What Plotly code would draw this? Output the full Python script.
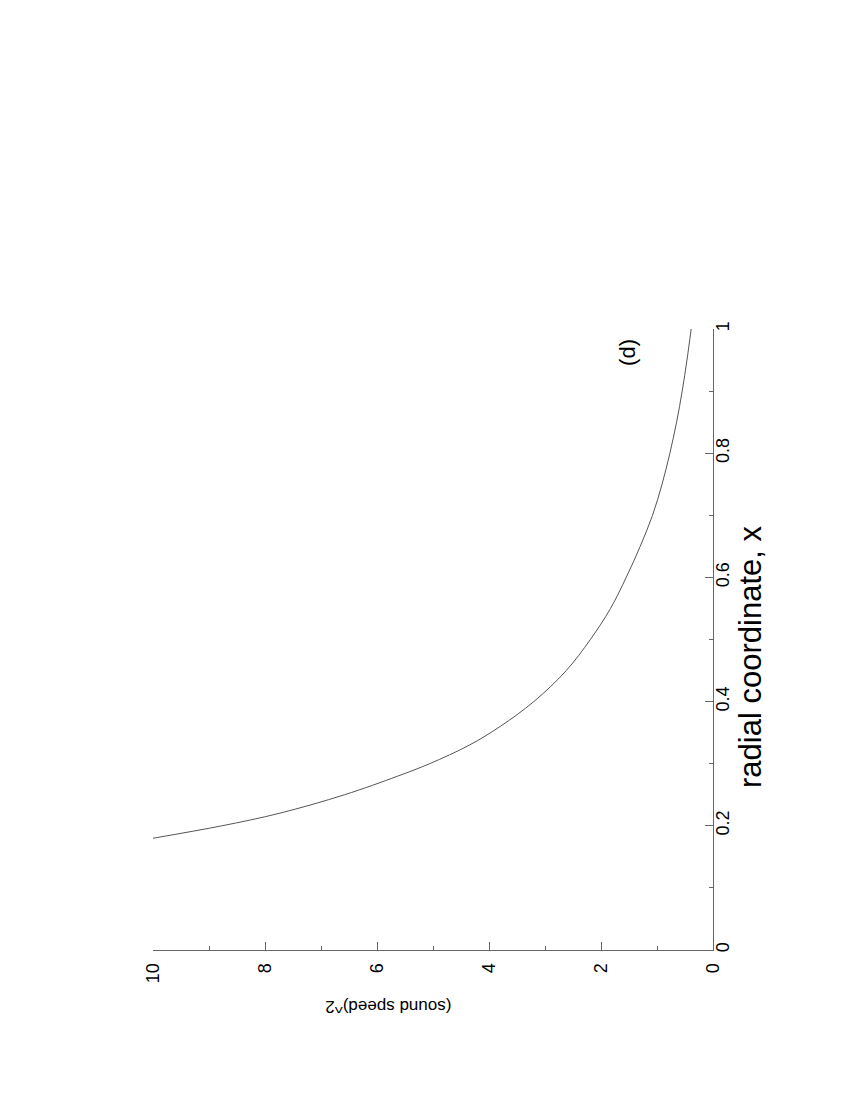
import plotly.graph_objects as go

# values (radial coordinate x -> (sound speed)^2)
radial_x = [0.18, 0.20, 0.22, 0.25, 0.28, 0.30, 0.33, 0.36, 0.40, 0.45, 0.50,
            0.55, 0.60, 0.65, 0.70, 0.75, 0.80, 0.85, 0.90, 0.95, 1.00]
sound_speed_sq = [10.0, 8.77, 7.75, 6.58, 5.63, 5.06, 4.35, 3.80, 3.20, 2.62, 2.19,
                  1.83, 1.55, 1.30, 1.08, 0.91, 0.77, 0.65, 0.55, 0.465, 0.39]

speed_ticks = [0, 2, 4, 6, 8, 10]
radial_ticks = [0, 0.2, 0.4, 0.6, 0.8, 1]
radial_labels = ["0", "0.2", "0.4", "0.6", "0.8", "1"]

FONT = "Liberation Sans, Arial, sans-serif"

# the page is a landscape plot turned on its side, so sound speed runs
# along the bottom (reversed) and x runs up the right-hand side
fig = go.Figure()
fig.add_trace(go.Scatter(x=sound_speed_sq, y=radial_x, mode="lines",
                         line=dict(color="#555555", width=1, shape="spline"),
                         showlegend=False))

fig.update_xaxes(range=[10, 0], tickvals=speed_ticks, ticks="inside", ticklen=8,
                 tickcolor="#666666", showline=True, linecolor="#666666", linewidth=1,
                 mirror=False, showgrid=False, zeroline=False, tickangle=-90,
                 tickfont=dict(family=FONT, size=18, color="black"),
                 ticklabelstandoff=5, automargin=False,
                 minor=dict(dtick=1, ticks="inside", ticklen=4, tickcolor="#666666"))
fig.update_yaxes(range=[0, 1], tickvals=radial_ticks, ticktext=radial_labels, side="right",
                 ticks="inside", ticklen=8, tickcolor="#666666", showline=True,
                 linecolor="#666666", linewidth=1, mirror=False, showgrid=False,
                 zeroline=False, tickangle=-90,
                 tickfont=dict(family=FONT, size=18, color="black"),
                 ticklabelstandoff=-7, automargin=False,
                 minor=dict(dtick=0.1, ticks="inside", ticklen=4, tickcolor="#666666"))

fig.add_annotation(text="(sound speed)^2", xref="paper", yref="paper", x=0.42, y=-0.09,
                   textangle=180, showarrow=False, xanchor="center", yanchor="middle",
                   font=dict(family=FONT, size=17, color="black"))
fig.add_annotation(text="radial coordinate, x", xref="paper", yref="paper", x=1.068, y=0.472,
                   textangle=-90, showarrow=False, xanchor="center", yanchor="middle",
                   font=dict(family=FONT, size=31, color="black"))
fig.add_annotation(text="(d)", x=1.53, y=0.962, textangle=-90, showarrow=False,
                   xanchor="center", yanchor="middle",
                   font=dict(family=FONT, size=22, color="black"))

fig.update_layout(width=850, height=1100, plot_bgcolor="white", paper_bgcolor="white",
                  margin=dict(l=145, r=145, t=321, b=158))

fig.write_html("out.html")
